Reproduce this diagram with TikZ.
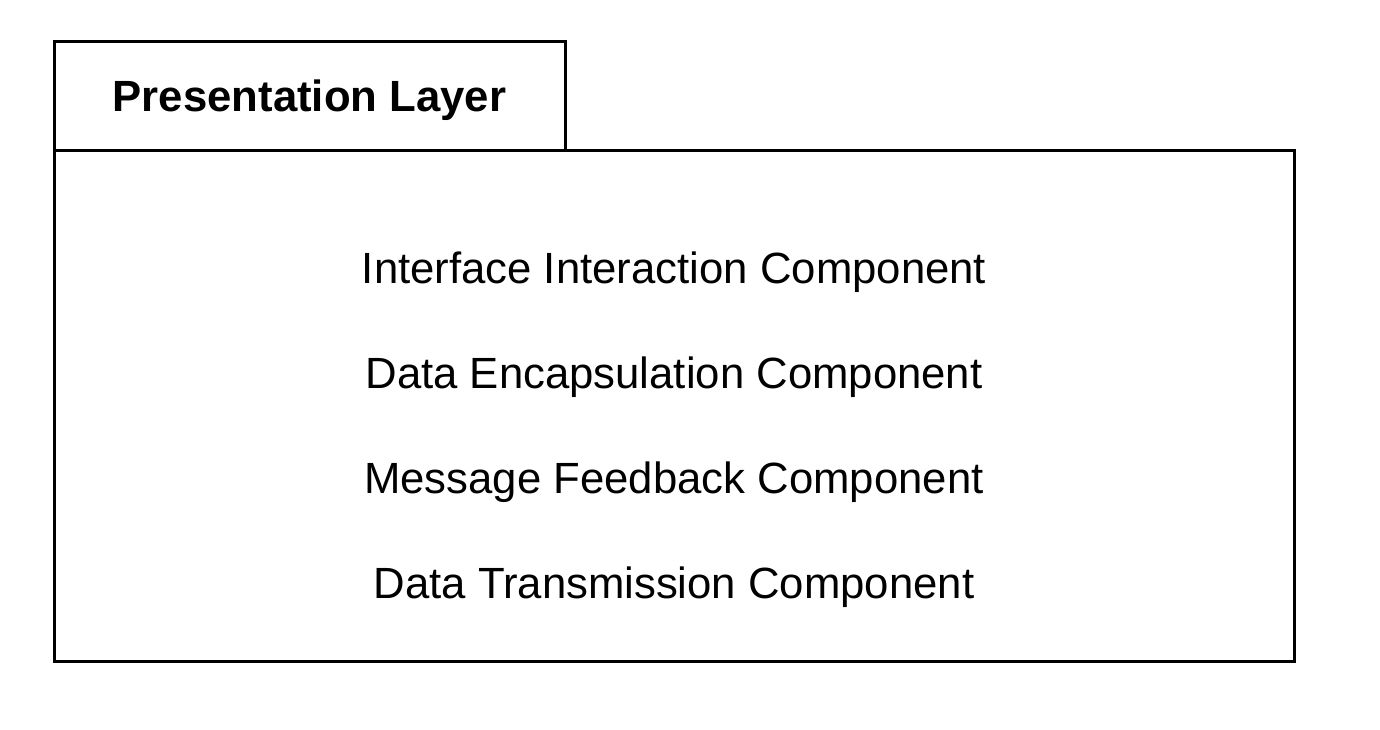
\documentclass[tikz,border=0pt]{standalone}
\usepackage{fontspec}
\setmainfont{Liberation Sans}
\begin{document}
\begin{tikzpicture}[x=1pt,y=-1pt,
  frame/.style={draw=black,line width=3pt,fill=white},
  tabtitle/.style={font=\fontsize{43.7}{50}\selectfont\bfseries,anchor=base},
  item/.style={font=\fontsize{43.7}{50}\selectfont,anchor=base}]
\useasboundingbox[fill=white] (0,0) rectangle (1380,730);
% package tab and body
\path[frame] (54,42) rectangle (565,151);
\path[frame] (54,151) rectangle (1294,661);
\node[tabtitle] (title) at (309.5,112) {Presentation Layer};
% components listed inside the package
\node[item] (c1) at (674,283) {Interface Interaction Component};
\node[item] (c2) at (674,388) {Data Encapsulation Component};
\node[item] (c3) at (674,493) {Message Feedback Component};
\node[item] (c4) at (674,598) {Data Transmission Component};
\end{tikzpicture}
\end{document}
